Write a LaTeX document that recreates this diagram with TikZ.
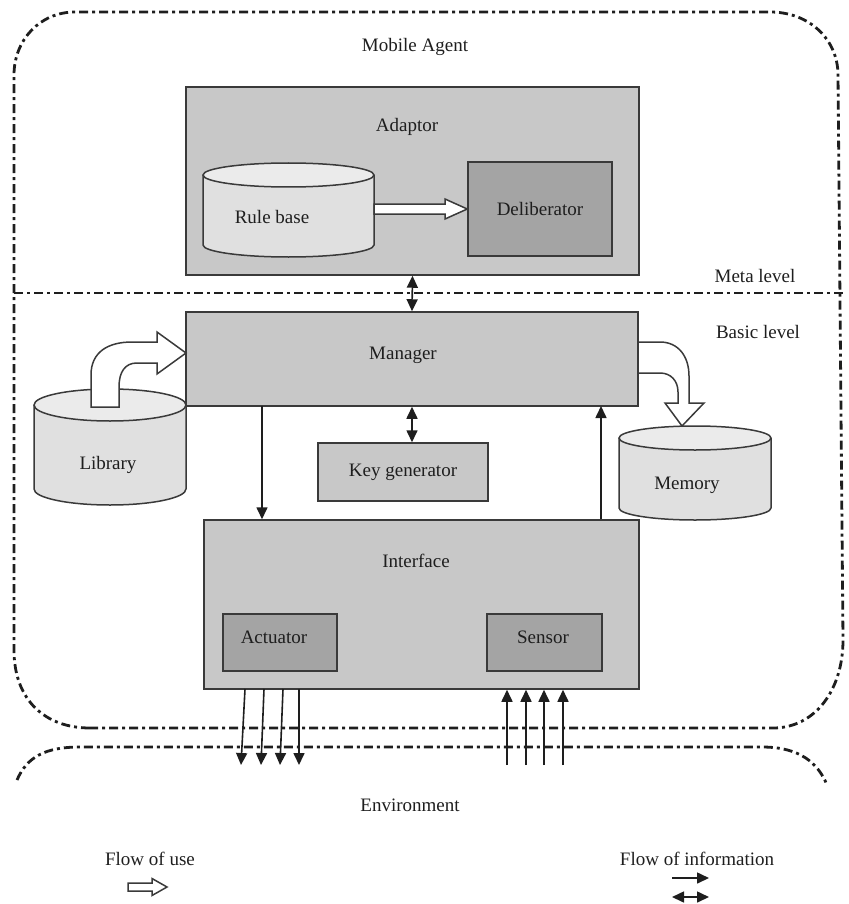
\documentclass[tikz,border=0pt]{standalone}
\usepackage{fontspec}
\setmainfont{Liberation Serif}
\usetikzlibrary{arrows.meta,calc}
\definecolor{boxgray}{HTML}{C8C8C8}
\definecolor{darkfill}{HTML}{A4A4A4}
\definecolor{cylbody}{HTML}{E0E0E0}
\definecolor{cyltop}{HTML}{EBEBEB}
\definecolor{edge}{HTML}{3A3A3A}
\definecolor{ink}{HTML}{1E1E1E}
\newcommand\mycyl[6]{%
  \pgfmathsetmacro\cylrx{(#3-#2)/2}%
  \pgfmathsetmacro\cylcx{(#3+#2)/2}%
  \fill[cylbody] (#2,#4) -- (#2,#5) arc[start angle=180,end angle=0,x radius=\cylrx,y radius=#6] -- (#3,#4) -- cycle;
  \draw[cylline] (#2,#4) -- (#2,#5) arc[start angle=180,end angle=0,x radius=\cylrx,y radius=#6] -- (#3,#4);
  \draw[cylline, fill=cyltop] (\cylcx,#4) ellipse[x radius=\cylrx,y radius=#6];
  \coordinate (#1) at (\cylcx,#4);
}
\begin{document}
\begin{tikzpicture}[x=1pt,y=-1pt,
  every node/.style={font=\fontsize{19}{22}\selectfont, text=ink},
  box/.style={draw=edge, fill=boxgray, line width=1.5pt, inner sep=0pt},
  darkbox/.style={box, fill=darkfill},
  lbl/.style={inner sep=0pt},
  dashdot/.style={draw=ink, line width=2.8pt, dash pattern=on 9pt off 4pt on 3pt off 4pt},
  info/.style={draw=ink, line width=1.6pt, -{Triangle[length=12pt,width=11pt]}},
  infotwo/.style={draw=ink, line width=1.6pt, {Triangle[length=12pt,width=11pt]}-{Triangle[length=12pt,width=11pt]}},
  usearrow/.style={draw=edge, fill=white, line width=1.5pt, line join=miter},
  cylline/.style={draw=edge, line width=1.5pt},
]
\useasboundingbox (0,0) rectangle (848,904);

% Mobile agent boundary
\draw[dashdot] (90,728) .. controls (45,728) and (14,700) .. (14,650) -- (14,75)
  .. controls (14,40) and (40,12) .. (75,12) -- (770,12)
  .. controls (810,12) and (838,40) .. (838,75) -- (843,640)
  .. controls (843,690) and (815,728) .. (773,728) -- cycle;
% meta / basic divider
\draw[dashdot] (14,293) -- (843,293);
% environment boundary
\draw[dashdot] (17,780) .. controls (27,757) and (45,747) .. (80,747) -- (762,747)
  .. controls (800,747) and (818,763) .. (827,785);

% labels
\node[lbl] (lma) at (415,47) {Mobile Agent};
\node[lbl] (lmeta) at (755,276) {Meta level};
\node[lbl] (lbasic) at (758,332) {Basic level};
\node[lbl] (lenv) at (410,805) {Environment};

% Adaptor
\node[box, minimum width=453pt, minimum height=188pt] (adaptor) at (412.5,181) {};
\node[lbl] (ladaptor) at (407,127) {Adaptor};
\mycyl{rulebase}{203}{374}{175}{245}{12}
\node[lbl] (lrule) at (272,217) {Rule base};
\node[darkbox, minimum width=144pt, minimum height=94pt] (delib) at (540,209) {Deliberator};
\draw[usearrow] (374,204) -- (445,204) -- (445,199) -- (delib.west) -- (445,219) -- (445,214) -- (374,214) -- cycle;

% Manager
\node[box, minimum width=452pt, minimum height=94pt] (manager) at (412,359) {};
\node[lbl] (lmanager) at (403,355) {Manager};
\draw[infotwo] (adaptor.south) -- (manager.north);

% Key generator
\node[box, minimum width=170pt, minimum height=58pt] (keygen) at (403,472) {Key generator};
\draw[infotwo] (manager.south) -- (manager.south |- keygen.north);

% Library
\mycyl{library}{34}{186}{405}{489}{16}
\node[lbl] (llib) at (108,465) {Library};
\draw[usearrow] (91,407) -- (91,375) .. controls (91,352) and (108,342) .. (132,342)
  -- (157,342) -- (157,332) -- (186,353) -- (157,374) -- (157,363) -- (137,363)
  .. controls (125,363) and (119,372) .. (119,387) -- (119,407) -- cycle;

% Memory
\mycyl{memory}{619}{771}{438}{508}{12}
\node[lbl] (lmem) at (687,485) {Memory};
\draw[usearrow] (638,342) -- (660,342) .. controls (678,342) and (689,356) .. (689,376)
  -- (689,403) -- (704,403) -- (682,426) -- (665,403) -- (678,403) -- (678,392)
  .. controls (678,381) and (671,373) .. (660,373) -- (638,373) -- cycle;

% Interface
\node[box, minimum width=435pt, minimum height=169pt] (interface) at (421.5,604.5) {};
\node[lbl] (lint) at (416,561) {Interface};
\node[darkbox, minimum width=114pt, minimum height=57pt] (actuator) at (280,642.5) {};
\node[lbl] (lact) at (274,637) {Actuator};
\node[darkbox, minimum width=115pt, minimum height=57pt] (sensor) at (544.5,642.5) {};
\node[lbl] (lsen) at (543,637) {Sensor};

% manager <-> interface
\coordinate (mdown) at (262,406);
\coordinate (mup) at (601,406);
\draw[info] (mdown) -- (mdown |- interface.north);
\draw[info] (mup |- interface.north) -- (mup);

% actuator outputs
\coordinate (ao1) at (245,689); \coordinate (ae1) at (241,765);
\coordinate (ao2) at (264,689); \coordinate (ae2) at (261,765);
\coordinate (ao3) at (283,689); \coordinate (ae3) at (280,765);
\coordinate (ao4) at (299,689); \coordinate (ae4) at (299,765);
\foreach \i in {1,2,3,4} \draw[info] (ao\i) -- (ae\i);
% sensor inputs
\foreach \i/\xx in {1/507,2/526,3/544,4/563} {
  \coordinate (se\i) at (\xx,765);
  \draw[info] (se\i) -- (se\i |- interface.south);
}

% legend
\node[lbl] (lfu) at (150,859) {Flow of use};
\node[lbl] (lfi) at (697,859) {Flow of information};
\draw[usearrow] (128,883) -- (152,883) -- (152,878.5) -- (167,887) -- (152,895.5) -- (152,891) -- (128,891) -- cycle;
\coordinate (li1) at (672,878); \coordinate (li2) at (709,878);
\coordinate (li3) at (672,897); \coordinate (li4) at (709,897);
\draw[info] (li1) -- (li2);
\draw[infotwo] (li3) -- (li4);
\end{tikzpicture}
\end{document}
